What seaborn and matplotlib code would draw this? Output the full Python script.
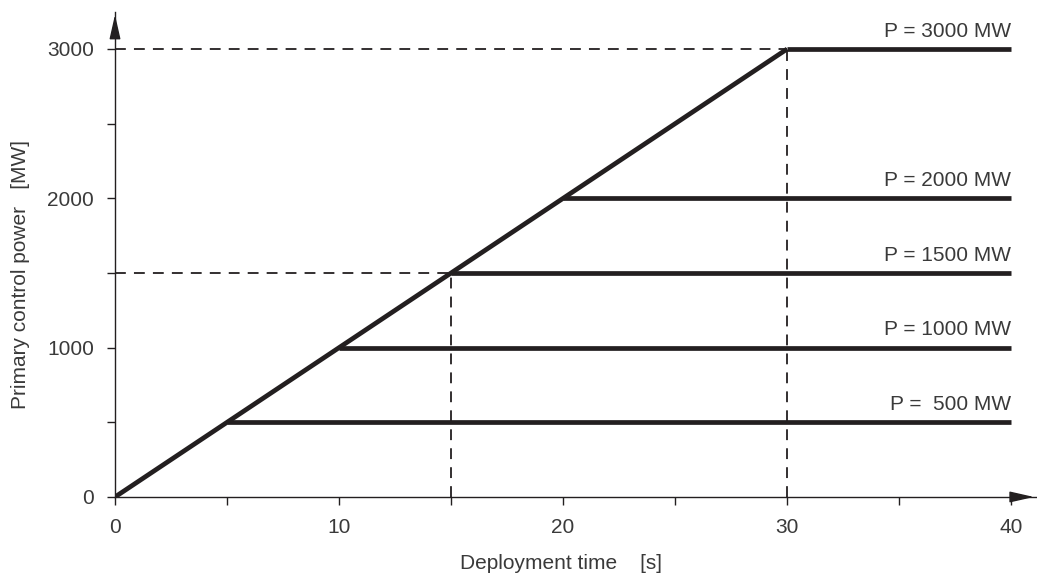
import pandas as pd
import matplotlib.pyplot as plt
import seaborn as sns
from matplotlib.ticker import MultipleLocator

# Power levels and the time at which each one is fully deployed
levels = [500, 1000, 1500, 2000, 3000]
start_times = [5, 10, 15, 20, 30]
end_time = 40
labels = ["P =  500 MW", "P = 1000 MW", "P = 1500 MW", "P = 2000 MW", "P = 3000 MW"]

# Dashed guide lines (time, power)
guide_times = [15, 30]
guide_powers = [1500, 3000]

sns.set_style("ticks")
plt.rcParams["font.family"] = ["Liberation Sans", "DejaVu Sans"]

line_color = "#231f20"
text_color = "#3a3a3a"

# Build one row per point: ramp line plus each plateau
rows = []
rows.append({"curve": "ramp", "t": 0, "p": 0})
rows.append({"curve": "ramp", "t": start_times[-1], "p": levels[-1]})
for lvl, t0 in zip(levels, start_times):
    rows.append({"curve": f"P{lvl}", "t": t0, "p": lvl})
    rows.append({"curve": f"P{lvl}", "t": end_time, "p": lvl})
data = pd.DataFrame(rows)

fig = plt.figure(figsize=(10.37, 5.75), dpi=100)
ax = fig.add_axes([0.1109, 0.1357, 0.888, 0.8435])

# Dashed guides
for t, p in zip(guide_times, guide_powers):
    ax.plot([0, t], [p, p], ls=(0, (6, 4.5)), color=line_color, lw=1.3)
    ax.plot([t, t], [0, p], ls=(0, (6, 4.5)), color=line_color, lw=1.3)

sns.lineplot(data=data, x="t", y="p", units="curve", estimator=None,
             color=line_color, lw=3.4, ax=ax, legend=False,
             solid_capstyle="butt")

for lvl, lab in zip(levels, labels):
    ax.text(end_time, lvl + 55, lab, ha="right", va="bottom",
            fontsize=15, color=text_color)

ax.set_xlim(0, 41.1)
ax.set_ylim(0, 3248)
ax.xaxis.set_major_locator(MultipleLocator(10))
ax.xaxis.set_minor_locator(MultipleLocator(5))
ax.yaxis.set_major_locator(MultipleLocator(1000))
ax.yaxis.set_minor_locator(MultipleLocator(500))
ax.set_xticks([0, 10, 20, 30, 40])
ax.tick_params(which="both", length=6, width=1, color=line_color,
               labelsize=15, labelcolor=text_color, pad=9)

sns.despine(ax=ax)
for side in ["left", "bottom"]:
    ax.spines[side].set_color(line_color)
    ax.spines[side].set_linewidth(1)

# Arrow heads on the axes
head = "-|>,head_length=0.75,head_width=0.17"
ax.annotate("", xy=(1.001, 0), xycoords="axes fraction", xytext=(0.97, 0),
            arrowprops=dict(arrowstyle=head, mutation_scale=20,
                            color=line_color, lw=1),
            annotation_clip=False)
ax.annotate("", xy=(0, 1), xycoords="axes fraction", xytext=(0, 0.95),
            arrowprops=dict(arrowstyle=head, mutation_scale=20,
                            color=line_color, lw=1),
            annotation_clip=False)

ax.set_xlabel("Deployment time    [s]", fontsize=15, color=text_color)
ax.set_ylabel("Primary control power   [MW]", fontsize=15, color=text_color)
ax.xaxis.set_label_coords(0.484, -0.118)
ax.yaxis.set_label_coords(-0.0923, 0.458)

fig.savefig("out.png", dpi=100)
